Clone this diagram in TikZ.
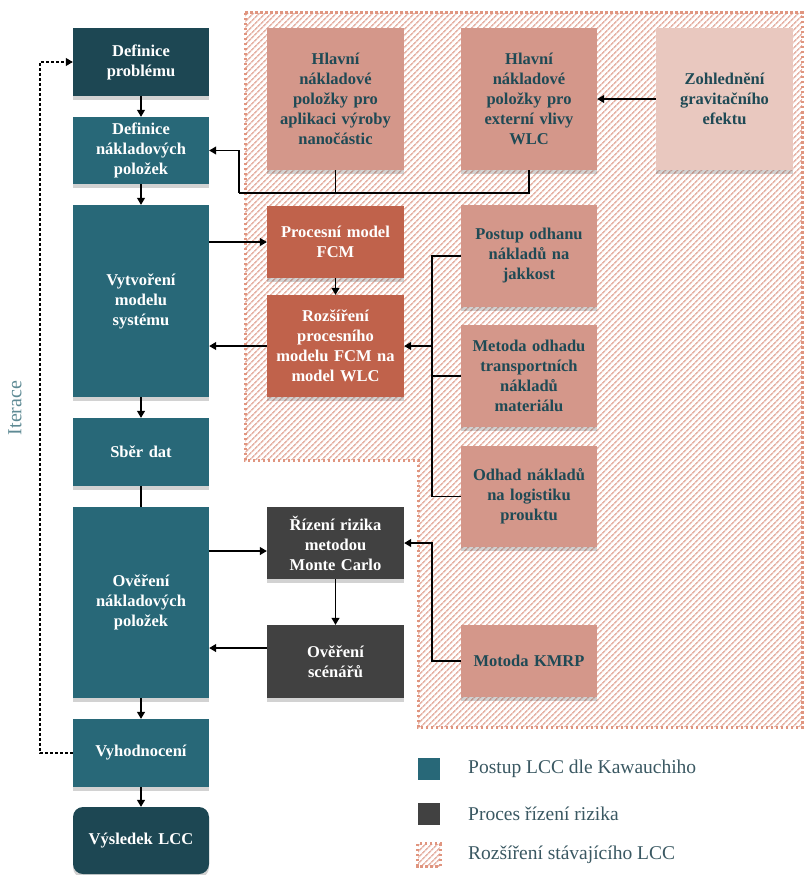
\documentclass[tikz,border=0pt]{standalone}
\usepackage{fontspec}
\setmainfont{Liberation Serif}
\usetikzlibrary{shadows,patterns.meta,arrows.meta,calc}
\definecolor{dteal}{HTML}{1D4753}
\definecolor{teal}{HTML}{286878}
\definecolor{salmon}{HTML}{D4978A}
\definecolor{terra}{HTML}{C0624B}
\definecolor{lpink}{HTML}{E9C8BF}
\definecolor{dgray}{HTML}{414141}
\definecolor{txtd}{HTML}{1F4A55}
\definecolor{hatch}{HTML}{E6B4A7}
\definecolor{dotb}{HTML}{E0957F}
\definecolor{itcol}{HTML}{5E8A94}
\definecolor{legtxt}{HTML}{3A5862}
\tikzset{
  box/.style={rectangle, inner sep=2pt, align=center, text width=130pt,
    font=\fontsize{16.5}{20}\selectfont\bfseries,
    drop shadow={shadow xshift=0pt, shadow yshift=-3.5pt, opacity=0.25, fill=black!70}},
  tealbox/.style={box, fill=teal, text=white},
  dtealbox/.style={box, fill=dteal, text=white},
  salbox/.style={box, fill=salmon, text=txtd},
  terrabox/.style={box, fill=terra, text=white},
  pinkbox/.style={box, fill=lpink, text=txtd},
  graybox/.style={box, fill=dgray, text=white},
  conn/.style={line width=1.2pt, black},
  arr/.style={conn, -{Triangle[width=8pt,length=7pt]}},
  itarr/.style={line width=1.1pt, black, dash pattern=on 3pt off 2pt, -{Triangle[width=8pt,length=7pt]}},
  hatcharea/.style={pattern={Lines[angle=45,distance=4pt,line width=1.7pt]}, pattern color=hatch},
  dotborder/.style={draw=dotb, line width=3pt, dash pattern=on 2.5pt off 2.5pt},
  legtext/.style={anchor=west, text=legtxt, font=\fontsize{19.5}{20}\selectfont, inner sep=0pt}
}
\begin{document}
\begin{tikzpicture}[x=1pt,y=-1pt]
\useasboundingbox (0,0) rectangle (804,875);

% extension area
\fill[hatcharea] (245,13) -- (802,13) -- (802,727) -- (418,727) -- (418,460) -- (245,460) -- cycle;
\draw[dotborder] (245,13) -- (802,13) -- (802,727) -- (418,727) -- (418,460) -- (245,460) -- cycle;

% left column
\node[dtealbox, minimum width=136pt, minimum height=68pt] (defprob) at (141,62) {Definice\\problému};
\node[tealbox, minimum width=136pt, minimum height=67pt] (defnak) at (141,150.5) {Definice\\nákladových\\položek};
\node[tealbox, minimum width=136pt, minimum height=192pt] (vytv) at (141,301) {Vytvoření\\modelu\\systému};
\node[tealbox, minimum width=136pt, minimum height=68pt] (sber) at (141,452) {Sběr dat};
\node[tealbox, minimum width=136pt, minimum height=191pt] (over) at (141,602.5) {Ověření\\nákladových\\položek};
\node[tealbox, minimum width=136pt, minimum height=68pt] (vyhod) at (141,753) {Vyhodnocení};
\node[dtealbox, rounded corners=10pt, minimum width=136pt, minimum height=67pt] (vysl) at (141,840.5) {Výsledek LCC};

% middle column
\node[salbox, minimum width=137pt, minimum height=142pt] (nano) at (335.5,99) {Hlavní\\nákladové\\položky pro\\aplikaci výroby\\nanočástic};
\node[terrabox, minimum width=137pt, minimum height=72pt] (fcm) at (335.5,242) {Procesní model\\FCM};
\node[terrabox, minimum width=137pt, minimum height=102pt] (rozs) at (335.5,346) {Rozšíření\\procesního\\modelu FCM na\\model WLC};
\node[graybox, minimum width=137pt, minimum height=72pt] (riz) at (335.5,543) {Řízení rizika\\metodou\\Monte Carlo};
\node[graybox, minimum width=137pt, minimum height=73pt] (scen) at (335.5,661.5) {Ověření\\scénářů};

% third column
\node[salbox, minimum width=136pt, minimum height=142pt] (ext) at (529,99) {Hlavní\\nákladové\\položky pro\\externí vlivy\\WLC};
\node[salbox, minimum width=136pt, minimum height=102pt] (postup) at (529,256) {Postup odhanu\\nákladů na\\jakkost};
\node[salbox, minimum width=136pt, minimum height=102pt] (metoda) at (529,376) {Metoda odhadu\\transportních\\nákladů\\materiálu};
\node[salbox, minimum width=136pt, minimum height=101pt] (odhad) at (529,496.5) {Odhad nákladů\\na logistiku\\prouktu};
\node[salbox, minimum width=136pt, minimum height=72pt] (kmrp) at (529,661) {Motoda KMRP};

% fourth column
\node[pinkbox, minimum width=137pt, minimum height=142pt] (grav) at (724.5,99) {Zohlednění\\gravitačního\\efektu};

% main flow
\draw[arr] (defprob.south) -- (defnak.north);
\draw[arr] (defnak.south) -- (vytv.north);
\draw[arr] (vytv.south) -- (sber.north);
\draw[conn] (sber.south) -- (over.north);
\draw[arr] (over.south) -- (vyhod.north);
\draw[arr] (vyhod.south) -- (vysl.north);

% iteration
\coordinate (it) at (40,62);
\draw[itarr] (vyhod.west) -| (it) -- (defprob.west);
\node[rotate=90, text=itcol, font=\fontsize{20}{20}\selectfont] (itl) at (15,408) {Iterace};

% top merge
\coordinate (m) at (239,193);
\draw[conn] (ext.south) |- (m);
\draw[conn] (nano.south) -- (nano.south |- m);
\draw[arr] (m) |- (defnak.east);
\draw[arr] (grav.west) -- (ext.east);

% FCM
\draw[arr] (vytv.east |- fcm.west) -- (fcm.west);
\draw[arr] (fcm.south) -- (rozs.north);
\draw[arr] (rozs.west) -- (vytv.east |- rozs.west);

% bus
\coordinate (b) at (432,0);
\draw[conn] (postup.west) -| (b |- odhad.west) -- (odhad.west);
\draw[conn] (metoda.west) -- (metoda.west -| b);
\draw[arr] (b |- rozs.east) -- (rozs.east);
\draw[arr] (kmrp.west) -| (b |- riz.east) -- (riz.east);

% risk
\coordinate (r1) at (0,551);
\coordinate (r2) at (0,648);
\draw[arr] (over.east |- r1) -- (riz.west |- r1);
\draw[arr] (riz.south) -- (scen.north);
\draw[arr] (scen.west |- r2) -- (over.east |- r2);

% legend
\node[fill=teal, minimum size=22pt, inner sep=0pt] (lg1) at (429,769) {};
\node[legtext] (lt1) at (468,769) {Postup LCC dle Kawauchiho};
\node[fill=dgray, minimum size=22pt, inner sep=0pt] (lg2) at (429,813.5) {};
\node[legtext] (lt2) at (468,813.5) {Proces řízení rizika};
\node[hatcharea, minimum size=22pt, inner sep=0pt] (lg3) at (429,855) {};
\draw[dotborder] (lg3.north west) rectangle (lg3.south east);
\node[legtext] (lt3) at (468,855) {Rozšíření stávajícího LCC};
\end{tikzpicture}
\end{document}
